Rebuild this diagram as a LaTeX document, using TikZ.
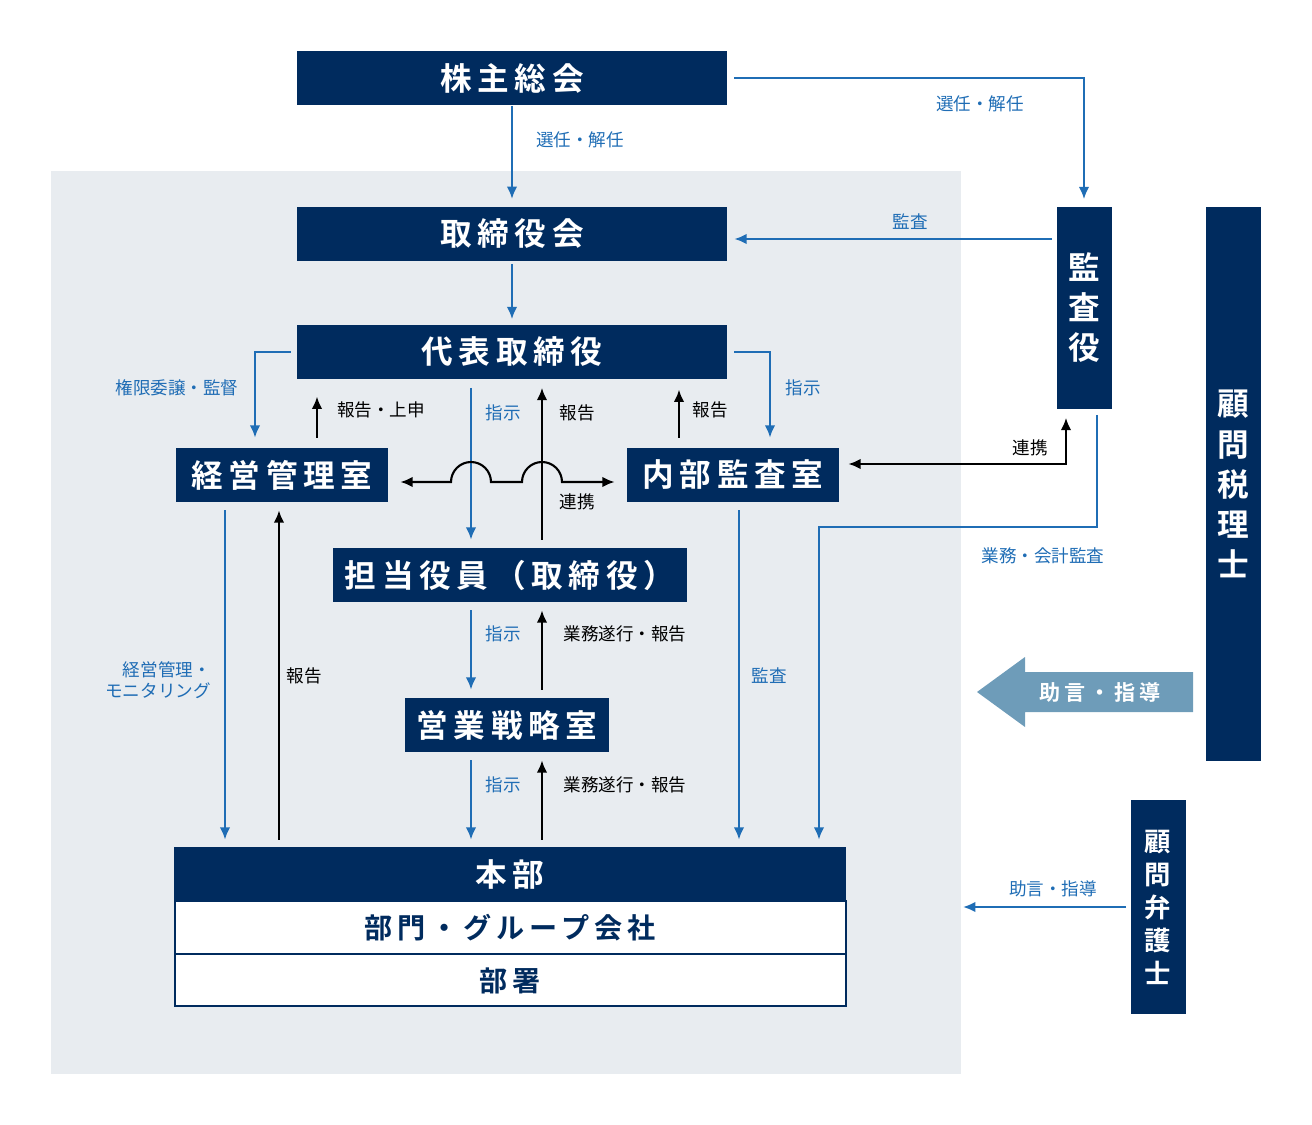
\documentclass[tikz,border=0pt]{standalone}
\usepackage{fontspec}
\setmainfont{Noto Sans CJK JP}
\newfontfamily\boxfont[LetterSpace=18]{Noto Sans CJK JP Bold}
\usetikzlibrary{calc}
\definecolor{navy}{RGB}{0,43,94}
\definecolor{lineblue}{RGB}{31,109,181}
\definecolor{bgrey}{RGB}{232,236,240}
\definecolor{advice}{RGB}{110,156,185}
\tikzset{
	box/.style={fill=navy, text=white, inner sep=0pt, font=\boxfont\fontsize{18}{22}\selectfont},
	vbox/.style={box, align=center, font=\boxfont\fontsize{18}{22.8}\selectfont},
	bline/.style={draw=lineblue, line width=1.2pt, -{Latex[length=7pt,width=6pt]}},
	kline/.style={draw=black, line width=1.2pt, -{Latex[length=7pt,width=6pt]}},
	blab/.style={text=lineblue, font=\fontsize{10}{12}\selectfont},
	klab/.style={text=black, font=\fontsize{10}{12}\selectfont},
}
\usetikzlibrary{arrows.meta}
\begin{document}
\begin{tikzpicture}[x=0.02cm, y=-0.02cm]
	\useasboundingbox (0,0) rectangle (1312,1125);
	\fill[bgrey] (51,171) rectangle (961,1074);
	
	% boxes
	\node[box, minimum width=8.6cm, minimum height=1.1cm] (kabu) at (512,78) {株主総会};
	\node[box, minimum width=8.6cm, minimum height=1.1cm] (tori) at (512,234) {取締役会};
	\node[box, minimum width=8.6cm, minimum height=1.1cm] (daihyo) at (512,352) {代表取締役};
	\node[box, minimum width=4.24cm, minimum height=1.08cm] (keiei) at (282,475) {経営管理室};
	\node[box, minimum width=4.24cm, minimum height=1.08cm] (naibu) at (733,475) {内部監査室};
	\node[box, minimum width=7.1cm, minimum height=1.08cm] (tanto) at (510,575) {担当役員（取締役）};
	\node[box, minimum width=4.1cm, minimum height=1.08cm] (eigyo) at (507,725) {営業戦略室};
	\node[vbox, minimum width=1.1cm, minimum height=4.06cm] (kansa) at (1084,308) {監\\査\\役};
	\node[vbox, minimum width=1.1cm, minimum height=11.08cm] (zeiri) at (1233,484) {顧\\問\\税\\理\\士};
	\node[vbox, minimum width=1.1cm, minimum height=4.28cm, font=\boxfont\fontsize{15}{18.8}\selectfont] (bengo) at (1158,907) {顧\\問\\弁\\護\\士};
	
	% honbu
	\node[box, minimum width=13.46cm, minimum height=1.08cm] (honbu) at (510,874) {本部};
	\draw[navy, line width=1.5pt, fill=white] (175,901) rectangle (846,1006);
	\draw[navy, line width=1.5pt] (175,954) -- (846,954);
	\node[text=navy, font=\boxfont\fontsize{16}{18}\selectfont] (bumon) at (510,928) {部門・グループ会社};
	\node[text=navy, font=\boxfont\fontsize{16}{18}\selectfont] (busho) at (510,981) {部署};
	
	% advice arrow
	\fill[advice] (1193,672) -- (1025,672) -- (1025,657) -- (977,692) -- (1025,727) -- (1025,712) -- (1193,712) -- cycle;
	\node[text=white, font=\boxfont\fontsize{12}{14}\selectfont] (jogen) at (1100,692) {助言・指導};
	
	% connectors
	\draw[bline] (kabu.south) -- ++(0,93);
	\node[blab] at (580,140) {選任・解任};
	\draw[bline] (kabu.east) ++(7,0) -| ($(kansa.north)+(0,-7)$);
	\node[blab] at (980,104) {選任・解任};
	\draw[bline] (kansa.west) ++(-4,-69) -- ($(tori.east)+(7,5)$);
	\node[blab] at (910,222) {監査};
	\draw[bline] (tori.south) ++(0,2) -- ($(daihyo.north)+(0,-5)$);
	\draw[bline] (daihyo.west) ++(-6,0) -| ($(keiei.north)+(-27,-10)$);
	\node[blab] at (177,388) {権限委譲・監督};
	\draw[bline] (daihyo.east) ++(7,0) -| ($(naibu.north)+(37,-10)$);
	\node[blab] at (803,388) {指示};
	\draw[kline] (keiei.north) ++(35,-10) -- ++(0,-41);
	\node[klab] at (381,410) {報告・上申};
	\draw[bline] (daihyo.south) ++(-41,8) -- ($(tanto.north)+(-39,-8)$);
	\node[blab] at (503,413) {指示};
	\draw[kline] (tanto.north) ++(32,-8) -- ($(daihyo.south)+(30,8)$);
	\node[klab] at (577,413) {報告};
	\draw[kline] (naibu.north) ++(-54,-10) -- ++(0,-48);
	\node[klab] at (710,410) {報告};
	\draw[black, line width=1.2pt, {Latex[length=7pt,width=6pt]}-{Latex[length=7pt,width=6pt]}]
		($(keiei.east)+(12,7)$) -- (451,482) arc[start angle=180, end angle=0, radius=0.4cm]
		-- (522,482) arc[start angle=180, end angle=0, radius=0.4cm] -- ($(naibu.west)+(-12,7)$);
	\node[klab] at (577,502) {連携};
	\draw[black, line width=1.2pt, {Latex[length=7pt,width=6pt]}-{Latex[length=7pt,width=6pt]}]
		($(naibu.east)+(9,-11)$) -| ($(kansa.south)+(-18,8)$);
	\node[klab] at (1030,448) {連携};
	\draw[bline] (kansa.south) ++(13,5) |- (819,527) -- ($(honbu.north)+(309,-7)$);
	\node[blab] at (1043,556) {業務・会計監査};
	\draw[bline] (naibu.south) ++(6,8) -- ($(honbu.north)+(229,-7)$);
	\node[blab] at (769,676) {監査};
	\draw[bline] (keiei.south) ++(-57,8) -- ($(honbu.north)+(-285,-7)$);
	\node[blab, align=right] at (158,680) {経営管理・\\モニタリング};
	\draw[kline] (honbu.north) ++(-231,-7) -- ($(keiei.south)+(-3,8)$);
	\node[klab] at (304,676) {報告};
	\draw[bline] (tanto.south) ++(-39,8) -- ($(eigyo.north)+(-36,-8)$);
	\node[blab] at (503,634) {指示};
	\draw[kline] (eigyo.north) ++(35,-8) -- ($(tanto.south)+(32,8)$);
	\node[klab] at (625,634) {業務遂行・報告};
	\draw[bline] (eigyo.south) ++(-36,8) -- ($(honbu.north)+(-39,-7)$);
	\node[blab] at (503,785) {指示};
	\draw[kline] (honbu.north) ++(32,-7) -- ($(eigyo.south)+(35,8)$);
	\node[klab] at (625,785) {業務遂行・報告};
	\draw[bline] (bengo.west) ++(-4,0) -- (963,907);
	\node[blab] at (1053,889) {助言・指導};
\end{tikzpicture}
\end{document}
